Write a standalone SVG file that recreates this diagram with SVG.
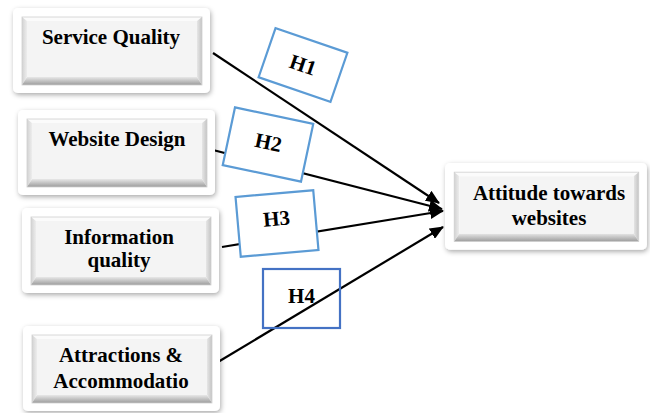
<svg xmlns="http://www.w3.org/2000/svg" xmlns:xlink="http://www.w3.org/1999/xlink" width="650" height="413" viewBox="0 0 650 413">
<style>
.t{font-family:"Liberation Serif",serif;font-weight:bold;font-size:21px;fill:#000;text-anchor:middle}
.c{stroke:#000;stroke-width:2.2;fill:none;marker-end:url(#ah)}
.hl{fill:#fff;stroke:#5b9bd5;stroke-width:2.2}
.hd{fill:none;stroke:#4472c4;stroke-width:2.2}
</style>
<defs>
<filter id="sh" x="-10%" y="-15%" width="125%" height="140%">
<feDropShadow dx="1" dy="2" stdDeviation="2.5" flood-color="#000" flood-opacity="0.33"/>
</filter>
<linearGradient id="gb" x1="0" y1="0" x2="0" y2="1">
<stop offset="0" stop-color="#e8e8e8"/><stop offset="1" stop-color="#9c9c9c"/>
</linearGradient>
<linearGradient id="gl" x1="0" y1="0" x2="1" y2="0">
<stop offset="0" stop-color="#d2d2d2"/><stop offset="1" stop-color="#ededed"/>
</linearGradient>
<linearGradient id="gr" x1="0" y1="0" x2="1" y2="0">
<stop offset="0" stop-color="#e6e6e6"/><stop offset="1" stop-color="#c4c4c4"/>
</linearGradient>
<marker id="ah" viewBox="0 0 14 12" refX="13" refY="6" markerWidth="14" markerHeight="12" markerUnits="userSpaceOnUse" orient="auto">
<path d="M0,0 L14,6 L0,12 Z" fill="#000"/>
</marker>
<g id="btn">
<rect x="0" y="0" width="197" height="85" rx="5" fill="#fff" filter="url(#sh)"/>
<polygon points="9,9 189,9 184,13 14,13" fill="#fbfbfb"/>
<polygon points="9,9 14,13 14,69 9,77" fill="url(#gl)"/>
<polygon points="189,9 189,77 184,69 184,13" fill="url(#gr)"/>
<polygon points="9,77 14,69 184,69 189,77" fill="url(#gb)"/>
<rect x="14" y="13" width="170" height="56" fill="#f4f4f4"/>
<rect x="9" y="9" width="180" height="68" fill="none" stroke="#cfcfcf" stroke-width="0.8"/>
</g>
</defs>
<rect width="650" height="413" fill="#fff"/>
<g id="connectors">
<line class="c" x1="213" y1="53" x2="439" y2="203"/>
<line class="c" x1="213" y1="150" x2="442" y2="209"/>
<line class="c" x1="222" y1="247" x2="443" y2="211"/>
<line class="c" x1="218" y1="362" x2="443" y2="227"/>
</g>
<g id="node-service">
<use xlink:href="#btn" x="13" y="8"/>
<text class="t" x="111" y="44">Service Quality</text>
</g>
<g id="node-website">
<use xlink:href="#btn" x="18" y="110"/>
<text class="t" x="117" y="146">Website Design</text>
</g>
<g id="node-information">
<use xlink:href="#btn" x="22" y="208"/>
<text class="t" x="119" y="244">Information</text>
<text class="t" x="119" y="267">quality</text>
</g>
<g id="node-attractions">
<use xlink:href="#btn" x="23" y="326"/>
<text class="t" x="121" y="362">Attractions &amp;</text>
<text class="t" x="121" y="388">Accommodatio</text>
</g>
<g id="node-attitude">
<use xlink:href="#btn" transform="translate(445,163) scale(1.025,1.02)"/>
<text class="t" x="549" y="200">Attitude towards</text>
<text class="t" x="549" y="225">websites</text>
</g>
<g id="label-h1" transform="translate(303,65) rotate(19)">
<rect class="hl" x="-38" y="-26" width="76" height="52"/>
<text class="t" x="0" y="7">H1</text>
</g>
<g id="label-h2" transform="translate(268,144.5) rotate(12)">
<rect class="hl" x="-40" y="-29.5" width="80" height="59"/>
<text class="t" x="0" y="5">H2</text>
</g>
<g id="label-h3" transform="translate(277,223.5) rotate(-5)">
<rect class="hl" x="-39" y="-30" width="78" height="60"/>
<text class="t" x="0" y="2">H3</text>
</g>
<g id="label-h4">
<rect class="hd" x="263" y="269" width="77" height="59"/>
<text class="t" x="301.5" y="303">H4</text>
</g>
</svg>
